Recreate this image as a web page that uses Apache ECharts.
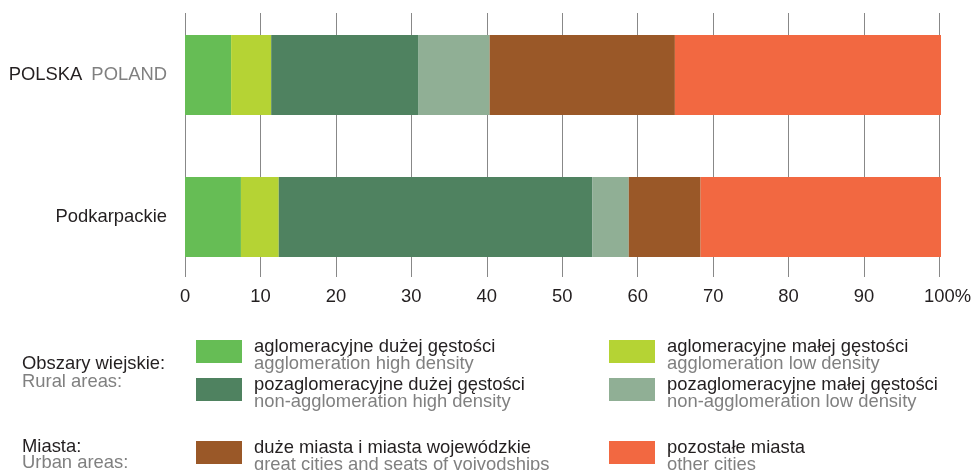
<!DOCTYPE html>
<html>
<head>
<meta charset="utf-8">
<script src="https://cdn.jsdelivr.net/npm/echarts@6/dist/echarts.min.js"></script>
<style>
  html, body { margin: 0; padding: 0; background: #fff; }
  #chart { width: 974px; height: 470px; }
</style>
</head>
<body>
<div id="chart"></div>
<script>
// Regions shown as bars (top to bottom)
var regions = ['POLSKA', 'Podkarpackie'];
var regionsEn = { 'POLSKA': 'POLAND' };

// Share of population by area type, % (order: POLSKA, Podkarpackie)
var seriesNames = [
  'aglomeracyjne dużej gęstości',
  'aglomeracyjne małej gęstości',
  'pozaglomeracyjne dużej gęstości',
  'pozaglomeracyjne małej gęstości',
  'duże miasta i miasta wojewódzkie',
  'pozostałe miasta'
];
var seriesNamesEn = [
  'agglomeration high density',
  'agglomeration low density',
  'non-agglomeration high density',
  'non-agglomeration low density',
  'great cities and seats of voivodships',
  'other cities'
];
var aglomHigh    = [6.1, 7.4];
var aglomLow     = [5.3, 5.0];
var nonAglomHigh = [19.5, 41.5];
var nonAglomLow  = [9.4, 4.8];
var bigCities    = [24.5, 9.5];
var otherCities  = [35.2, 31.8];
var seriesValues = [aglomHigh, aglomLow, nonAglomHigh, nonAglomLow, bigCities, otherCities];

var colors = ['#66bd55', '#b5d334', '#4f8260', '#90af95', '#9a5828', '#f26841'];

// x axis ticks
var xMin = 0, xMax = 100, xStep = 10;

var FONT = '"Liberation Sans", Arial, Helvetica, sans-serif';
var FS = 18.4;
var DARK = '#231f20';
var GREY = '#808080';

var chart = echarts.init(document.getElementById('chart'), null, { renderer: 'canvas' });

var series = seriesNames.map(function (name, i) {
  return {
    name: name,
    type: 'bar',
    stack: 'total',
    xAxisIndex: 0,
    yAxisIndex: 0,
    barWidth: 80,
    itemStyle: { color: colors[i] },
    emphasis: { disabled: true },
    data: seriesValues[i]
  };
});

// legend layout: [left, top] per series
var legendPos = [
  [196, 338], [609, 338],
  [196, 376], [609, 376],
  [196, 439], [609, 439]
];
var legends = seriesNames.map(function (name, i) {
  return {
    data: [name],
    left: legendPos[i][0],
    top: legendPos[i][1],
    padding: 0,
    itemWidth: 46,
    itemHeight: 23,
    icon: 'rect',
    selectedMode: false,
    formatter: function (n) {
      return '{a|' + n + '}\n{b|' + seriesNamesEn[seriesNames.indexOf(n)] + '}';
    },
    textStyle: {
      padding: [8, 0, 0, 7],
      rich: {
        a: { fontFamily: FONT, fontSize: FS, color: DARK, lineHeight: 17 },
        b: { fontFamily: FONT, fontSize: FS, color: GREY, lineHeight: 17 }
      }
    }
  };
});

var option = {
  animation: false,
  backgroundColor: '#fff',
  title: [
    {
      text: '{a|Obszary wiejskie:}\n{b|Rural areas:}',
      left: 22, top: 355, padding: 0,
      textStyle: { fontWeight: 'normal', rich: {
        a: { fontFamily: FONT, fontSize: FS, fontWeight: 'normal', color: DARK, lineHeight: 18 },
        b: { fontFamily: FONT, fontSize: FS, fontWeight: 'normal', color: GREY, lineHeight: 18 }
      } }
    },
    {
      text: '{a|Miasta:}\n{b|Urban areas:}',
      left: 22, top: 439, padding: 0,
      textStyle: { fontWeight: 'normal', rich: {
        a: { fontFamily: FONT, fontSize: FS, fontWeight: 'normal', color: DARK, lineHeight: 16 },
        b: { fontFamily: FONT, fontSize: FS, fontWeight: 'normal', color: GREY, lineHeight: 16 }
      } }
    }
  ],
  legend: legends,
  grid: [
    // bars
    { left: 185, width: 756, top: 4, height: 284 },
    // gridlines and value ticks
    { left: 185, width: 756, top: 13, height: 264 }
  ],
  xAxis: [
    {
      gridIndex: 0, type: 'value', min: xMin, max: xMax, interval: xStep,
      show: false
    },
    {
      gridIndex: 1, type: 'value', min: xMin, max: xMax, interval: xStep,
      axisLine: { show: false },
      axisTick: { show: false },
      splitLine: { show: true, lineStyle: { color: '#888', width: 1 } },
      axisLabel: {
        margin: 11,
        fontFamily: FONT, fontSize: FS, color: DARK,
        formatter: function (v) {
          return v === xMax ? '{p|' + v + '%}' : String(v);
        },
        rich: { p: { fontFamily: FONT, fontSize: FS, color: DARK, padding: [0, 0, 0, 16] } }
      }
    }
  ],
  yAxis: [
    {
      gridIndex: 0, type: 'category', inverse: true, data: regions,
      axisLine: { show: false },
      axisTick: { show: false },
      axisLabel: {
        margin: 18,
        fontFamily: FONT, fontSize: FS, color: DARK,
        formatter: function (v) {
          return regionsEn[v] ? '{a|' + v + '}{s|}{b|' + regionsEn[v] + '}' : '{a|' + v + '}';
        },
        rich: {
          a: { fontFamily: FONT, fontSize: FS, color: DARK },
          s: { width: 9 },
          b: { fontFamily: FONT, fontSize: FS, color: GREY }
        }
      }
    },
    {
      gridIndex: 1, type: 'value', min: 0, max: 1, show: false
    }
  ],
  series: series
};

chart.setOption(option);
</script>
</body>
</html>
